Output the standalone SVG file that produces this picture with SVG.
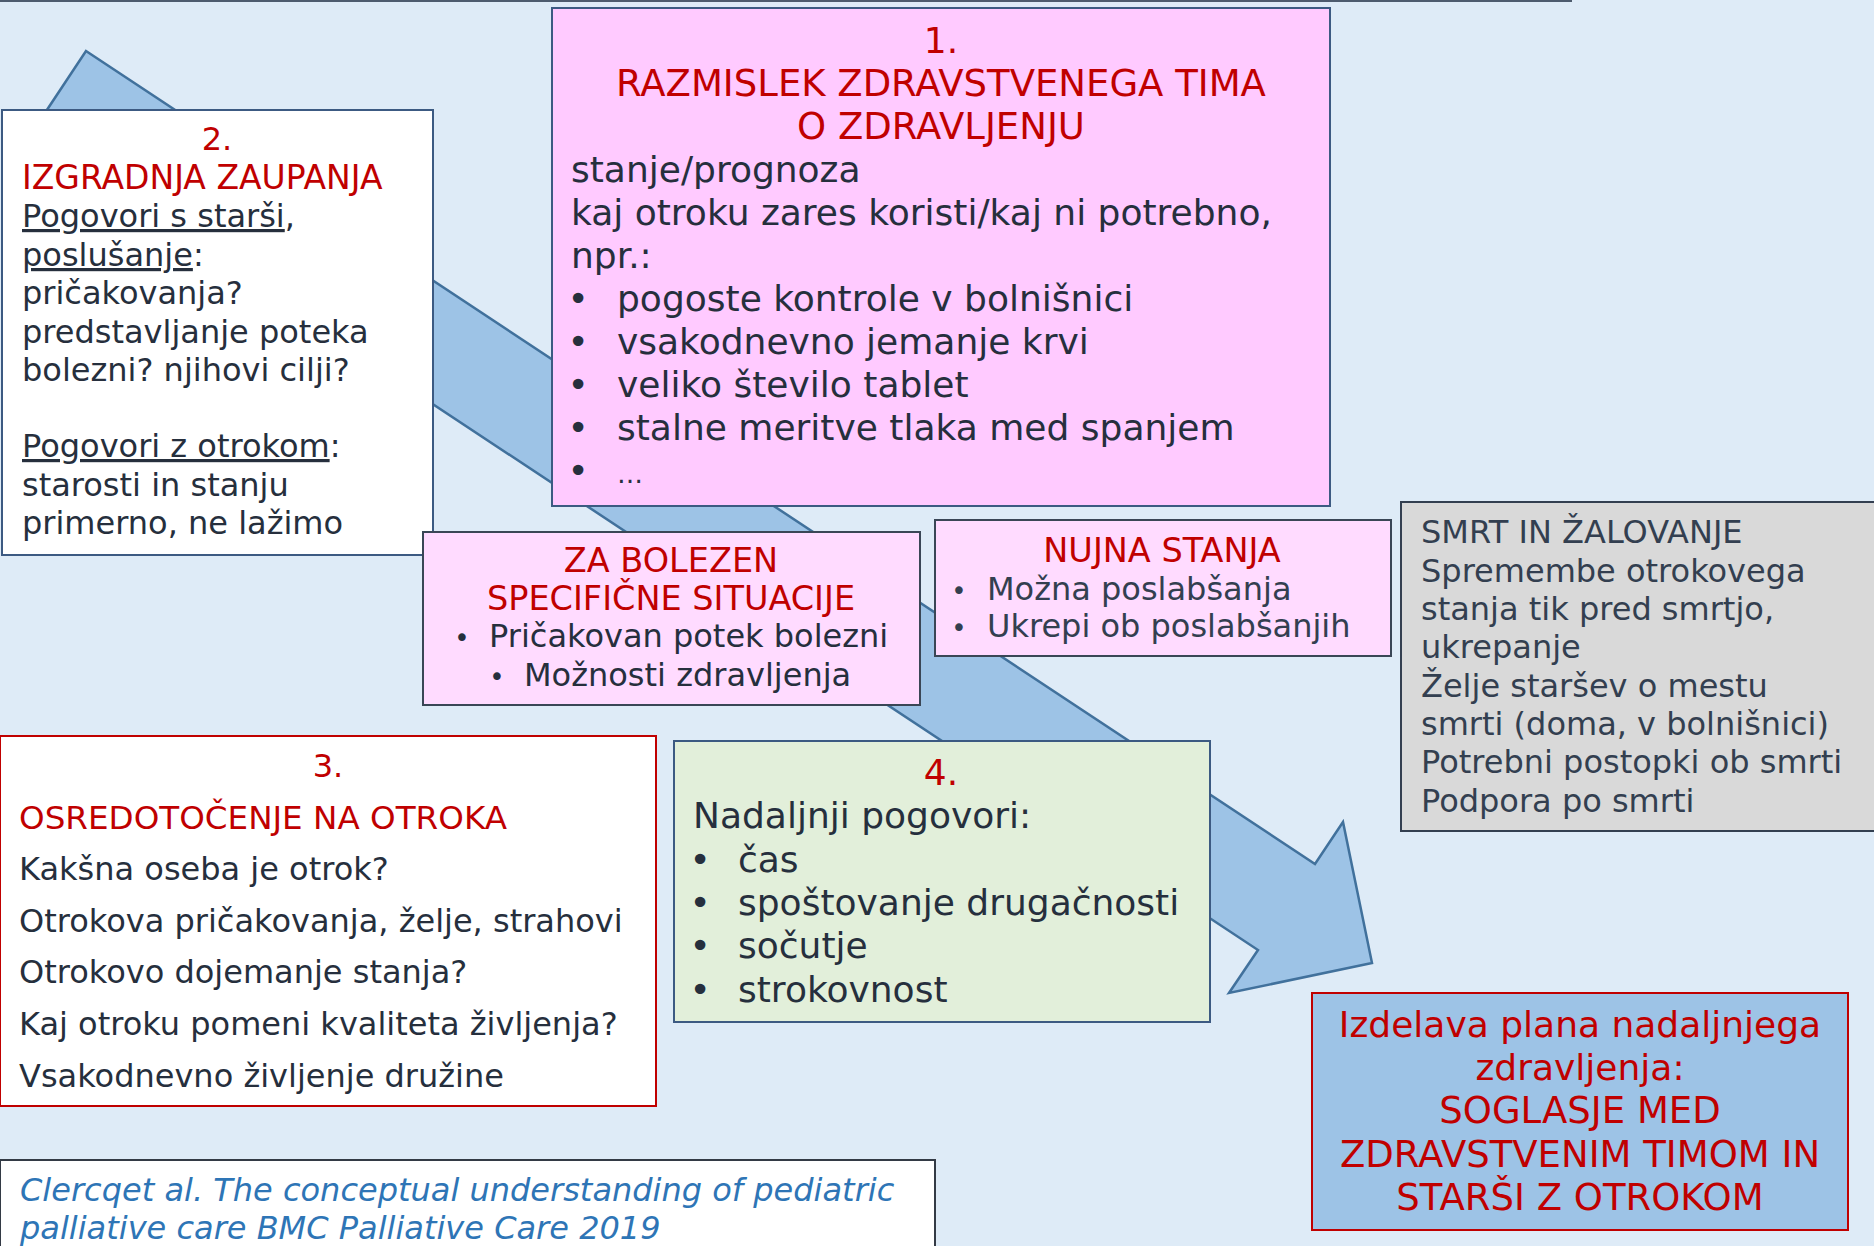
<svg xmlns="http://www.w3.org/2000/svg" width="1874" height="1246" viewBox="0 0 1874 1246">
<style>
text{font-family:"DejaVu Sans",Verdana,sans-serif;fill:#262f3d}
.r{fill:#c00000}
.c{text-anchor:middle}
.f36{font-size:36px}
.f32{font-size:32px}
.t37{font-size:37px}
.t33{font-size:33.5px}
.u{text-decoration:underline}
.box{stroke:#3c5a82;stroke-width:2}
.g{fill:#333f50}
.cite{fill:#2e75b6;font-style:italic;font-size:32px}
</style>
<rect x="0" y="0" width="1874" height="1246" fill="#deebf7"/>
<line x1="0" y1="1" x2="1572" y2="1" stroke="#4d5b6e" stroke-width="2"/>
<g id="connectors">
<polygon id="big-arrow" points="86,51 1315,864 1343,822 1372,963 1229,993 1258,950 29,137" fill="#9dc3e6" stroke="#41719c" stroke-width="2.5" stroke-linejoin="miter"/>
</g>
<g id="box1">
<rect class="box" x="552" y="8" width="778" height="498" fill="#ffcaff"/>
<text class="f36 r c" x="941" y="53">1.</text>
<text class="t37 r c" x="941" y="96">RAZMISLEK ZDRAVSTVENEGA TIMA</text>
<text class="t37 r c" x="941" y="139">O ZDRAVLJENJU</text>
<text class="f36" x="571" y="182">stanje/prognoza</text>
<text class="f36" x="571" y="225">kaj otroku zares koristi/kaj ni potrebno,</text>
<text class="f36" x="571" y="268">npr.:</text>
<text class="f36 c" x="578" y="311">•</text><text class="f36" x="617" y="311">pogoste kontrole v bolnišnici</text>
<text class="f36 c" x="578" y="354">•</text><text class="f36" x="617" y="354">vsakodnevno jemanje krvi</text>
<text class="f36 c" x="578" y="397">•</text><text class="f36" x="617" y="397">veliko število tablet</text>
<text class="f36 c" x="578" y="440">•</text><text class="f36" x="617" y="440">stalne meritve tlaka med spanjem</text>
<text class="f36 c" x="578" y="483">•</text><text x="617" y="483" style="font-size:26px">…</text>
</g>
<g id="box2">
<rect class="box" x="2" y="110" width="431" height="445" fill="#ffffff"/>
<text class="f32 r c" x="217" y="150">2.</text>
<text class="r" x="22" y="189" style="font-size:33px">IZGRADNJA ZAUPANJA</text>
<text class="f32" x="22" y="227"><tspan class="u">Pogovori s starši</tspan>,</text>
<text class="f32" x="22" y="266"><tspan class="u">poslušanje</tspan>:</text>
<text class="f32" x="22" y="304">pričakovanja?</text>
<text class="f32" x="22" y="343">predstavljanje poteka</text>
<text class="f32" x="22" y="381">bolezni? njihovi cilji?</text>
<text class="f32" x="22" y="457"><tspan class="u">Pogovori z otrokom</tspan>:</text>
<text class="f32" x="22" y="496">starosti in stanju</text>
<text class="f32" x="22" y="534">primerno, ne lažimo</text>
</g>
<g id="box-za-bolezen">
<rect x="423" y="532" width="497" height="173" fill="#ffdbff" stroke="#3a4656" stroke-width="2"/>
<text class="t33 r c" x="671" y="572">ZA BOLEZEN</text>
<text class="t33 r c" x="671" y="610">SPECIFIČNE SITUACIJE</text>
<text class="c" x="462" y="647" style="font-size:26px">•</text><text class="f32" x="489" y="647">Pričakovan potek bolezni</text>
<text class="c" x="497" y="686" style="font-size:26px">•</text><text class="f32" x="524" y="686">Možnosti zdravljenja</text>
</g>
<g id="box-nujna">
<rect x="935" y="520" width="456" height="136" fill="#ffdbff" stroke="#3a4656" stroke-width="2"/>
<text class="t33 r c" x="1162" y="562">NUJNA STANJA</text>
<text class="c g" x="959" y="600" style="font-size:26px">•</text><text class="f32 g" x="987" y="600">Možna poslabšanja</text>
<text class="c g" x="959" y="637" style="font-size:26px">•</text><text class="f32 g" x="987" y="637">Ukrepi ob poslabšanjih</text>
</g>
<g id="box-smrt">
<rect x="1401" y="502" width="480" height="329" fill="#d9d9d9" stroke="#333f50" stroke-width="2"/>
<text class="f32 g" x="1421" y="543">SMRT IN ŽALOVANJE</text>
<text class="f32 g" x="1421" y="582">Spremembe otrokovega</text>
<text class="f32 g" x="1421" y="620">stanja tik pred smrtjo,</text>
<text class="f32 g" x="1421" y="658">ukrepanje</text>
<text class="f32 g" x="1421" y="697">Želje staršev o mestu</text>
<text class="f32 g" x="1421" y="735">smrti (doma, v bolnišnici)</text>
<text class="f32 g" x="1421" y="773">Potrebni postopki ob smrti</text>
<text class="f32 g" x="1421" y="812">Podpora po smrti</text>
</g>
<g id="box3">
<rect x="0" y="736" width="656" height="370" fill="#ffffff" stroke="#c00000" stroke-width="2"/>
<text class="f32 r c" x="328" y="777">3.</text>
<text class="r" x="19" y="829" style="font-size:32.6px">OSREDOTOČENJE NA OTROKA</text>
<text class="f32" x="19" y="880">Kakšna oseba je otrok?</text>
<text class="f32" x="19" y="932">Otrokova pričakovanja, želje, strahovi</text>
<text class="f32" x="19" y="983">Otrokovo dojemanje stanja?</text>
<text class="f32" x="19" y="1035">Kaj otroku pomeni kvaliteta življenja?</text>
<text class="f32" x="19" y="1087">Vsakodnevno življenje družine</text>
</g>
<g id="box4">
<rect class="box" x="674" y="741" width="536" height="281" fill="#e2efda"/>
<text class="f36 r c" x="941" y="785">4.</text>
<text class="f36" x="693" y="828">Nadaljnji pogovori:</text>
<text class="f36 c" x="700" y="872">•</text><text class="f36" x="738" y="872">čas</text>
<text class="f36 c" x="700" y="915">•</text><text class="f36" x="738" y="915">spoštovanje drugačnosti</text>
<text class="f36 c" x="700" y="958">•</text><text class="f36" x="738" y="958">sočutje</text>
<text class="f36 c" x="700" y="1002">•</text><text class="f36" x="738" y="1002">strokovnost</text>
</g>
<g id="box-plan">
<rect x="1312" y="993" width="536" height="237" fill="#9dc3e6" stroke="#c00000" stroke-width="2"/>
<text class="f36 r c" x="1580" y="1037">Izdelava plana nadaljnjega</text>
<text class="f36 r c" x="1580" y="1080">zdravljenja:</text>
<text class="t37 r c" x="1580" y="1123">SOGLASJE MED</text>
<text class="t37 r c" x="1580" y="1167">ZDRAVSTVENIM TIMOM IN</text>
<text class="t37 r c" x="1580" y="1210">STARŠI Z OTROKOM</text>
</g>
<g id="citation">
<rect x="0" y="1160" width="935" height="100" fill="#ffffff" stroke="#333a45" stroke-width="2"/>
<text class="cite" x="20" y="1201">Clercqet al. The conceptual understanding of pediatric</text>
<text class="cite" x="20" y="1239">palliative care BMC Palliative Care 2019</text>
</g>
</svg>
